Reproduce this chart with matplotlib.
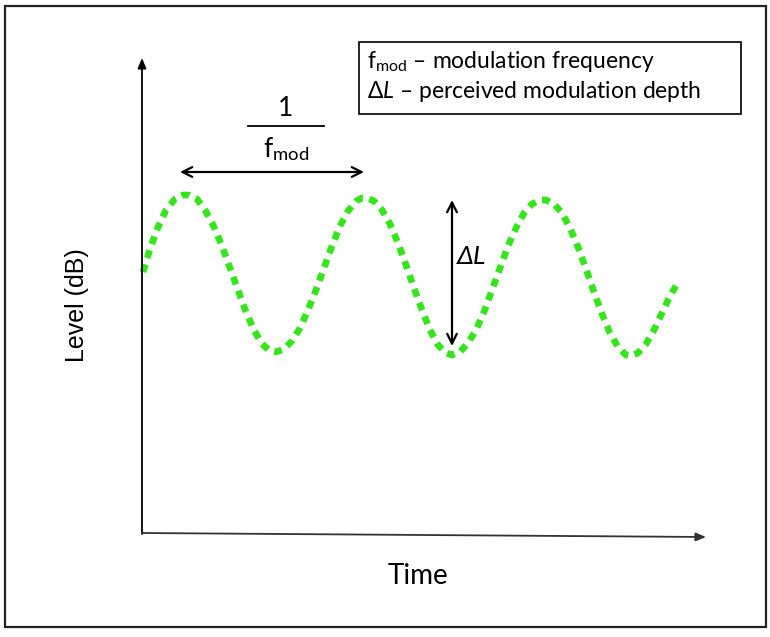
import numpy as np
import matplotlib
matplotlib.use("Agg")
from matplotlib import pyplot as plt
from matplotlib.patches import Rectangle

plt.rcParams["mathtext.fontset"] = "custom"
plt.rcParams["mathtext.rm"] = "Lato"
plt.rcParams["mathtext.it"] = "Lato:italic"

# wave (pixel-like units, y grows downwards)
wave_x = [143, 150, 158, 166, 175, 183, 189, 197, 205, 214, 222, 230, 238, 246, 254,
          262, 270, 276, 284, 292, 300, 308, 316, 324, 332, 340, 348, 356, 362, 367,
          374, 382, 390, 398, 406, 414, 422, 430, 438, 446, 452, 460, 468, 476, 484,
          492, 500, 508, 516, 524, 532, 540, 546, 554, 562, 570, 578, 586, 594, 602,
          610, 618, 626, 630, 638, 646, 654, 662, 670, 677]
wave_y = [272, 249, 227, 210, 199, 195, 195, 199, 210, 227, 246, 268, 290, 312, 330,
          344, 351, 352, 349, 341, 328, 310, 290, 268, 246, 226, 211, 201, 198, 198,
          201, 210, 224, 243, 265, 288, 310, 330, 345, 353, 355, 352, 343, 330, 312,
          290, 268, 246, 228, 213, 204, 200, 200, 204, 213, 228, 247, 269, 292, 314,
          333, 347, 355, 356, 353, 344, 330, 313, 296, 284]

x_label = "Time"
y_label = "Level (dB)"
legend_lines = ["f$_{\\mathrm{mod}}$ – modulation frequency",
                "$\\it{\\Delta L}$ – perceived modulation depth"]

fig = plt.figure(figsize=(7.70, 6.37), dpi=100)
ax = fig.add_axes([0, 0, 1, 1])
ax.set_xlim(0, 770)
ax.set_ylim(637, 0)
ax.axis("off")

# outer frame
ax.add_patch(Rectangle((5, 6), 761, 621, fill=False, ec="#222222", lw=1.6))

# axes arrows
ax.annotate("", xy=(142, 58), xytext=(142, 534),
            arrowprops=dict(arrowstyle="-|>,head_length=0.6,head_width=0.25",
                            color="black", lw=1.3, shrinkA=0, shrinkB=0))
ax.annotate("", xy=(706, 537), xytext=(142, 533),
            arrowprops=dict(arrowstyle="-|>,head_length=0.6,head_width=0.25",
                            color="#333333", lw=1.3, shrinkA=0, shrinkB=0))

ax.text(418, 576, x_label, ha="center", va="center", fontsize=20, family="Lato")
ax.text(77, 305, y_label, ha="center", va="center", rotation=90, fontsize=18,
        family="Liberation Sans")

# modulated level
ax.plot(wave_x, wave_y, color="#33e619", lw=4.8, linestyle=(0, (1.2, 1.0)),
        dash_capstyle="butt")

# period marker
ax.annotate("", xy=(364, 172), xytext=(180, 172),
            arrowprops=dict(arrowstyle="<->,head_length=0.7,head_width=0.35",
                            color="black", lw=1.6, shrinkA=0, shrinkB=0))
ax.text(286, 108, "1", ha="center", va="center", fontsize=19, family="Lato")
ax.plot([248, 324], [126, 126], color="black", lw=1.3)
ax.text(286, 149, "f$_{\\mathrm{mod}}$", ha="center", va="center", fontsize=19,
        family="Lato")

# depth marker
ax.annotate("", xy=(452, 200), xytext=(452, 346),
            arrowprops=dict(arrowstyle="<->,head_length=0.7,head_width=0.35",
                            color="black", lw=1.6, shrinkA=0, shrinkB=0))
ax.text(457, 257, "ΔL", ha="left", va="center", fontsize=19, family="Lato",
        style="italic")

# legend box
ax.add_patch(Rectangle((359, 42), 382, 72, fill=False, ec="black", lw=1.2))
ax.text(367, 62, legend_lines[0], ha="left", va="center", fontsize=16.5, family="Lato")
ax.text(367, 91, legend_lines[1], ha="left", va="center", fontsize=16.5, family="Lato")

fig.savefig("out.png", dpi=100)
